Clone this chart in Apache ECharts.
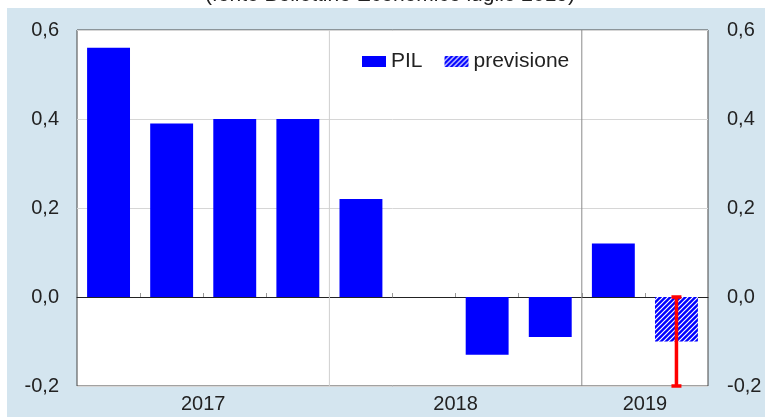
<!DOCTYPE html>
<html>
<head>
<meta charset="utf-8">
<script src="https://cdn.jsdelivr.net/npm/echarts@6/dist/echarts.min.js"></script>
<style>
html,body{margin:0;padding:0;background:#fff;}
#chart{width:765px;height:417px;}
</style>
</head>
<body>
<div id="chart"></div>
<script>
// trimestri (4 del 2017, 4 del 2018, 2 del 2019)
var quarters = ['I-17','II-17','III-17','IV-17','I-18','II-18','III-18','IV-18','I-19','II-19'];
var pil = [0.56, 0.39, 0.40, 0.40, 0.22, 0.00, -0.13, -0.09, 0.12, null];
var previsione = [null, null, null, null, null, null, null, null, null, -0.10];
var errIndex = 9, errHigh = 0.0, errLow = -0.2;
var years = ['2017', '2018', '2019'];
var yearSize = [4, 4, 2];

// posizione etichette anno e separatori
var yearMid = {}, seps = [];
var acc = 0;
for (var i = 0; i < years.length; i++) {
  yearMid[acc + yearSize[i] / 2] = years[i];
  acc += yearSize[i];
  if (i < years.length - 1) seps.push([acc]);
}

// tratteggio per la previsione
var hatch = document.createElement('canvas');
hatch.width = 5; hatch.height = 5;
var hc = hatch.getContext('2d');
hc.fillStyle = '#0000ff';
hc.fillRect(0, 0, 5, 5);
hc.strokeStyle = '#ffffff';
hc.lineWidth = 1.2;
hc.beginPath();
hc.moveTo(0, 5); hc.lineTo(5, 0);
hc.moveTo(-1, 1); hc.lineTo(1, -1);
hc.moveTo(4, 6); hc.lineTo(6, 4);
hc.stroke();

var fmt = function (v) { return v.toFixed(1).replace('.', ','); };
var lab = { color: '#222', fontSize: 20, fontFamily: 'Liberation Sans, Arial' };

var chart = echarts.init(document.getElementById('chart'));
chart.setOption({
  backgroundColor: '#d4e5ef',
  animation: false,
  graphic: [
    { type: 'rect', shape: { x: 0, y: 0, width: 765, height: 8 }, style: { fill: '#fff' }, z: 1 },
    { type: 'rect', shape: { x: 0, y: 0, width: 7, height: 417 }, style: { fill: '#fff' }, z: 1 },
    { type: 'text', x: 390, y: -15, z: 2, style: { text: '(fonte Bollettino Economico luglio 2019)', align: 'center',
      fill: '#222', fontSize: 21, fontFamily: 'Liberation Sans, Arial' } }
  ],
  legend: {
    left: 357, top: 46, itemWidth: 24, itemHeight: 11, itemGap: 22, icon: 'rect',
    textStyle: Object.assign({}, lab, { fontSize: 21 }),
    data: ['PIL', 'previsione']
  },
  grid: { left: 77, right: 57, top: 30, bottom: 31, show: true, backgroundColor: '#fff', borderColor: '#444', borderWidth: 1 },
  xAxis: [{
    type: 'category', data: quarters,
    axisLine: { onZero: true, lineStyle: { color: '#222', width: 1 } },
    axisTick: { show: true, inside: true, length: 4, lineStyle: { color: '#999' } },
    axisLabel: { show: false }
  }, {
    type: 'value', min: 0, max: 10, interval: 1, position: 'bottom',
    axisLine: { show: false, onZero: false }, axisTick: { show: false }, splitLine: { show: false },
    axisLabel: Object.assign({ margin: 8, formatter: function (v) { return yearMid[v] || ''; } }, lab)
  }],
  yAxis: [{
    type: 'value', min: -0.2, max: 0.6, interval: 0.2, position: 'left',
    axisLine: { show: false }, axisTick: { show: false },
    splitLine: { show: true, lineStyle: { color: '#d6d6d6' } },
    axisLabel: Object.assign({ margin: 18, formatter: fmt }, lab)
  }, {
    type: 'value', min: -0.2, max: 0.6, interval: 0.2, position: 'right',
    axisLine: { show: false }, axisTick: { show: false }, splitLine: { show: false },
    axisLabel: Object.assign({ margin: 19, formatter: fmt }, lab)
  }],
  series: [{
    name: 'PIL', type: 'bar', data: pil, barWidth: '68%', barGap: '-100%',
    itemStyle: { color: '#0000ff' }
  }, {
    name: 'previsione', type: 'bar', data: previsione, barWidth: '68%', barGap: '-100%',
    itemStyle: { color: { image: hatch, repeat: 'repeat' } }
  }, {
    type: 'custom', xAxisIndex: 1, yAxisIndex: 0, silent: true, z: 1,
    data: seps,
    renderItem: function (params, api) {
      var x = api.value(0);
      var a = api.coord([x, 0.6]), b = api.coord([x, -0.2]);
      return { type: 'line', shape: { x1: a[0], y1: a[1], x2: b[0], y2: b[1] },
        style: { stroke: params.dataIndex === 0 ? '#cfcfcf' : '#8a8a8a', lineWidth: 1 } };
    }
  }, {
    type: 'custom', silent: true, z: 5,
    data: [[errIndex, errHigh, errLow]],
    renderItem: function (params, api) {
      var t = api.coord([api.value(0), api.value(1)]);
      var b = api.coord([api.value(0), api.value(2)]);
      var st = { stroke: '#ff0000', lineWidth: 3.5 };
      return { type: 'group', children: [
        { type: 'line', shape: { x1: t[0], y1: t[1], x2: b[0], y2: b[1] }, style: st },
        { type: 'line', shape: { x1: t[0] - 5, y1: t[1], x2: t[0] + 5, y2: t[1] }, style: st },
        { type: 'line', shape: { x1: b[0] - 5, y1: b[1], x2: b[0] + 5, y2: b[1] }, style: st }
      ] };
    }
  }]
});
</script>
</body>
</html>
